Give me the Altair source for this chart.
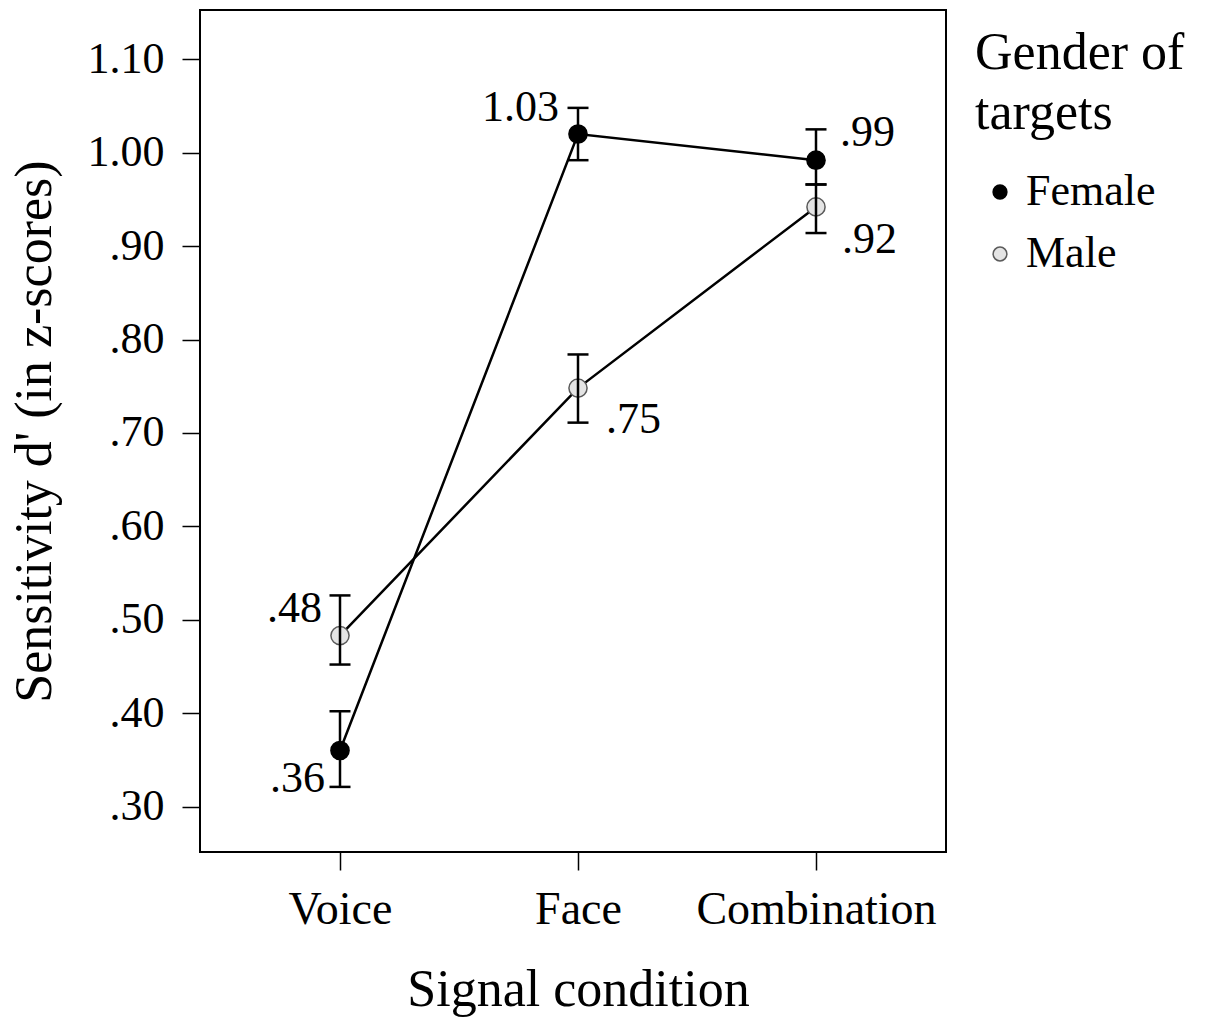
import altair as alt
import pandas as pd

# Signal detection sensitivity by condition and target gender
conditions = ["Voice", "Face", "Combination"]
genders = ["Female", "Male"]

female_mean = [0.36, 1.02, 0.992]
female_low = [0.321, 0.992, 0.966]
female_high = [0.402, 1.048, 1.025]
female_labels = [".36", "1.03", ".99"]

male_mean = [0.483, 0.748, 0.942]
male_low = [0.452, 0.711, 0.914]
male_high = [0.526, 0.784, 0.966]
male_labels = [".48", ".75", ".92"]

y_ticks = [0.30, 0.40, 0.50, 0.60, 0.70, 0.80, 0.90, 1.00, 1.10]

rows = []
for g, means, lows, highs, labels in [
    ("Female", female_mean, female_low, female_high, female_labels),
    ("Male", male_mean, male_low, male_high, male_labels),
]:
    for c, m, lo, hi, lab in zip(conditions, means, lows, highs, labels):
        rows.append({"gender": g, "condition": c, "mean": m, "low": lo, "high": hi, "label": lab})
df = pd.DataFrame(rows)

FONT = "Liberation Serif"
W, H = 746, 842

x_enc = alt.X(
    "condition:N",
    sort=conditions,
    scale=alt.Scale(type="point", range=[140, 616], padding=0),
    axis=alt.Axis(
        title="Signal condition",
        labelAngle=0,
        labelFontSize=46,
        labelLimit=0,
        titleFontSize=52,
        tickSize=18,
        tickWidth=1.5,
        tickColor="black",
        labelPadding=17,
        titlePadding=32,
        domain=False,
        labelColor="black",
        titleColor="black",
        titleFontWeight="normal",
    ),
)
y_scale = alt.Scale(domain=[0.2513, 1.1528], nice=False, zero=False)
y_axis = alt.Axis(
    title="Sensitivity d' (in z-scores)",
    values=y_ticks,
    labelExpr="datum.value >= 1 ? format(datum.value, '.2f') : slice(format(datum.value, '.2f'), 1)",
    labelFontSize=44,
    titleFontSize=52,
    titleLimit=0,
    tickSize=18,
    tickWidth=1.5,
    tickColor="black",
    labelPadding=18,
    titlePadding=26,
    grid=False,
    domain=False,
    labelColor="black",
    titleColor="black",
    titleFontWeight="normal",
)

base = alt.Chart(df)

lines = base.mark_line(color="black", strokeWidth=2.5).encode(
    x=x_enc,
    y=alt.Y("mean:Q", scale=y_scale, axis=y_axis),
    detail="gender:N",
)

legend_title = ["Gender of", "targets"]
points = base.mark_point(shape="circle", filled=True, opacity=1, size=330, strokeWidth=1.5).encode(
    x=x_enc,
    y=alt.Y("mean:Q", scale=y_scale),
    fill=alt.Fill("gender:N", scale=alt.Scale(domain=genders, range=["#000000", "#e4e4e4"]), title=legend_title),
    stroke=alt.Stroke("gender:N", scale=alt.Scale(domain=genders, range=["#000000", "#5a5a5a"]), title=legend_title),
)

err = base.mark_rule(color="black", strokeWidth=2.5).encode(
    x=x_enc, y=alt.Y("low:Q", scale=y_scale), y2="high:Q"
)
cap_low = base.mark_tick(color="black", size=21, thickness=2.5, opacity=1).encode(
    x=x_enc, y=alt.Y("low:Q", scale=y_scale)
)
cap_high = base.mark_tick(color="black", size=21, thickness=2.5, opacity=1).encode(
    x=x_enc, y=alt.Y("high:Q", scale=y_scale)
)

# value labels placed around each point
placements = {
    ("Female", "Voice"): ("right", -15, 29),
    ("Female", "Face"): ("right", -19, -26),
    ("Female", "Combination"): ("left", 24, -27),
    ("Male", "Voice"): ("right", -18, -27),
    ("Male", "Face"): ("left", 28, 32),
    ("Male", "Combination"): ("left", 26, 33),
}
text_layers = []
for (g, c), (align, dx, dy) in placements.items():
    text_layers.append(
        base.transform_filter((alt.datum.gender == g) & (alt.datum.condition == c))
        .mark_text(align=align, baseline="middle", dx=dx, dy=dy, fontSize=44, font=FONT, color="black")
        .encode(x=x_enc, y=alt.Y("mean:Q", scale=y_scale), text="label:N")
    )

chart = (
    alt.layer(lines, points, err, cap_low, cap_high, *text_layers)
    .properties(
        width=W,
        height=H,
        autosize=alt.AutoSizeParams(type="none"),
        padding={"left": 200, "top": 10, "right": 262, "bottom": 165},
        background="white",
    )
    .configure(font=FONT)
    .configure_view(stroke="black", strokeWidth=2)
    .configure_legend(
        orient="none",
        legendX=775,
        legendY=18,
        titleFontSize=52,
        titleFontWeight="normal",
        titleColor="black",
        titleLineHeight=60,
        titleFont=FONT,
        titleLimit=0,
        titlePadding=30,
        labelFontSize=44,
        labelFont=FONT,
        labelColor="black",
        labelLimit=0,
        labelOffset=4,
        symbolSize=190,
        symbolStrokeWidth=1.5,
        symbolOffset=3,
        rowPadding=18,
        padding=0,
    )
)

chart.save("out.html", embed_options={"renderer": "svg", "actions": False})
